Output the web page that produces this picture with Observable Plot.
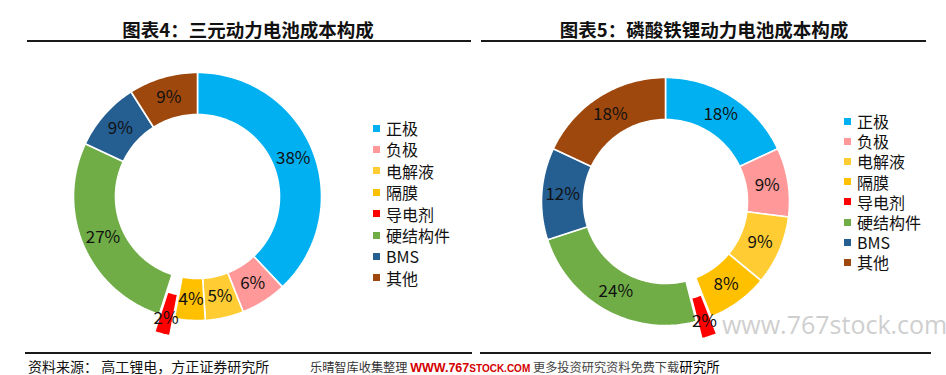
<!DOCTYPE html>
<html><head><meta charset="utf-8">
<script src="https://cdn.jsdelivr.net/npm/d3@7"></script>
<script src="https://cdn.jsdelivr.net/npm/@observablehq/plot@0.6"></script>
<style>
body{margin:0;background:#fff;font-family:"Noto Sans CJK SC",sans-serif;}
#root{position:relative;width:946px;height:375px;overflow:hidden;background:#fff;}
.abs{position:absolute;white-space:nowrap;line-height:1;}
.title{font-weight:bold;font-size:18.5px;color:#111;transform:translate(-50%,-50%);}
.rule{position:absolute;height:2px;background:#1a1a1a;}
.leg{position:absolute;font-size:16px;line-height:1;white-space:nowrap;color:#111;transform:translateY(-50%);}
.sw{position:absolute;width:7px;height:7px;}
</style></head><body><div id="root"></div>
<script>
// ---- data ----
const categories = ["正极","负极","电解液","隔膜","导电剂","硬结构件","BMS","其他"];
const colors = ["#00B0F0","#FF9999","#FFCD33","#FFC000","#FF0000","#70AD47","#255E91","#9E480E"];
const ternaryShares = [38,6,5,4,2,27,9,9];
const lfpShares = [18,9,9,8,2,24,12,18];
const explodedCategory = "导电剂";
const titles = ["图表4：三元动力电池成本构成","图表5：磷酸铁锂动力电池成本构成"];
const sourceText = "资料来源： 高工锂电，方正证券研究所";

// ---- geometry config ----
const R_OUT = 124, R_IN = 82, EXPLODE = 18, R_LABEL = 103, R_LABEL_EX = 126, HALF = 150;

const root = document.getElementById("root");
function el(tag, cls, css, html){const e=document.createElement(tag); if(cls) e.className=cls; Object.assign(e.style, css||{}); if(html!=null) e.innerHTML=html; root.appendChild(e); return e;}

function donut(shares){
  const total = d3.sum(shares);
  let cum = 0;
  const polys = [], labels = [];
  shares.forEach((v,i)=>{
    const a0 = cum/total*2*Math.PI; cum += v; const a1 = cum/total*2*Math.PI;
    const mid = (a0+a1)/2;
    const ex = categories[i]===explodedCategory ? EXPLODE : 0;
    const ox = ex*Math.sin(mid), oy = ex*Math.cos(mid);
    const n = Math.max(2, Math.ceil((a1-a0)/(Math.PI/120)));
    const pts = [];
    for(let k=0;k<=n;k++){const a=a0+(a1-a0)*k/n; pts.push({cat:categories[i], x:ox+R_OUT*Math.sin(a), y:oy+R_OUT*Math.cos(a)});}
    for(let k=n;k>=0;k--){const a=a0+(a1-a0)*k/n; pts.push({cat:categories[i], x:ox+R_IN*Math.sin(a), y:oy+R_IN*Math.cos(a)});}
    pts.push({...pts[0]});
    polys.push(...pts);
    const lr = ex ? R_LABEL_EX : R_LABEL;
    labels.push({text: v+"%", x: lr*Math.sin(mid), y: lr*Math.cos(mid)});
  });
  return Plot.plot({
    width: 2*HALF, height: 2*HALF, margin: 0,
    x: {domain: [-HALF, HALF], axis: null},
    y: {domain: [-HALF, HALF], axis: null},
    color: {type: "ordinal", domain: categories, range: colors},
    style: {fontFamily: "'Noto Sans CJK SC', sans-serif", background: "transparent", overflow: "visible"},
    marks: [
      Plot.line(polys, {x: "x", y: "y", z: "cat", fill: "cat", stroke: "white", strokeWidth: 1.6}),
      Plot.text(labels, {x: "x", y: "y", text: "text", fontSize: 17, fill: "#111"})
    ]
  });
}

function panel(shares, cx, cy, title, titleX, ruleX0, ruleX1, legX, legY0, legStep){
  el("div","abs title",{left:titleX+"px",top:"29px"},title);
  el("div","rule",{left:ruleX0+"px",top:"40px",width:(ruleX1-ruleX0)+"px"});
  const svg = donut(shares);
  svg.style.position="absolute"; svg.style.left=(cx-HALF)+"px"; svg.style.top=(cy-HALF)+"px";
  root.appendChild(svg);
  categories.forEach((c,i)=>{
    const y = legY0 + i*legStep;
    el("div","sw",{left:legX+"px",top:(y-3.5)+"px",background:colors[i]});
    el("div","leg",{left:(legX+13)+"px",top:y+"px"},c);
  });
}

panel(ternaryShares, 196.5, 196, titles[0], 248, 27, 471, 373, 128, 21.4);
panel(lfpShares, 664.5, 201, titles[1], 704, 481, 926, 844, 121, 20.2);

// footer
el("div","rule",{left:"25px",top:"352px",width:"447px",height:"1.5px"});
el("div","rule",{left:"480px",top:"352px",width:"451px",height:"1.5px"});
el("div","abs",{left:"28px",top:"359px",fontSize:"14px",color:"#111"},sourceText);
el("div","abs",{left:"310px",top:"360px",fontSize:"12.2px",color:"#333"},
  '乐晴智库收集整理 <span style="color:#D40000;font-weight:bold;font-family:Arial,\'Liberation Sans\',sans-serif;font-size:12.5px">WWW.767<span style="font-size:10px">STOCK.COM</span></span> <span style="color:#444">更多投资研究资料免费下载</span><span style="color:#000;font-size:13.5px">研究所</span>');
// watermark
el("div","abs",{left:"722px",top:"312px",fontSize:"25px",color:"#cfcfcf",fontFamily:"'Open Sans',sans-serif"},"www.767stock.com");
</script>
</body></html>
